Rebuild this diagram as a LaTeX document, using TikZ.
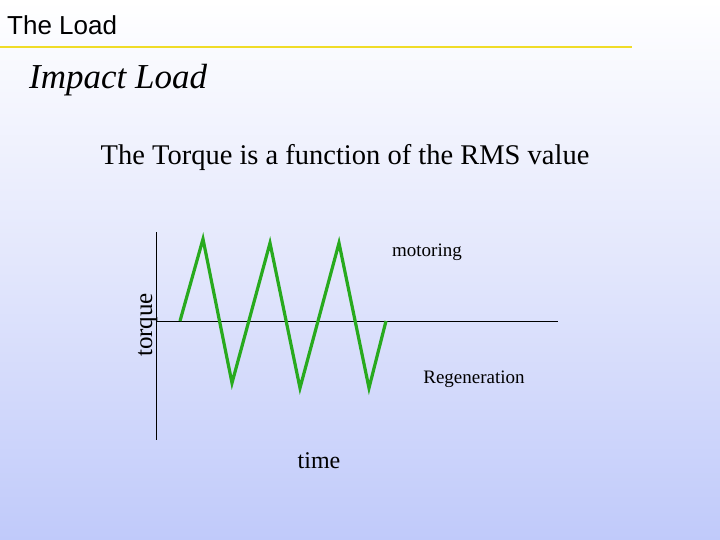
\documentclass[tikz,border=0pt]{standalone}
\usepackage{fontspec}
\setmainfont{Liberation Serif}
\newfontfamily\titlefont{Liberation Sans}
\begin{document}
\begin{tikzpicture}[x=1pt,y=-1pt,
  axis/.style={draw=black,line width=0.8pt},
  wave/.style={color={rgb,255:red,40;green,170;blue,30},line width=3.2pt,line join=miter},
  lbl/.style={inner sep=0,anchor=base}]
\shade[top color=white,bottom color={rgb,255:red,192;green,202;blue,250},middle color={rgb,255:red,226;green,230;blue,252}] (0,0) rectangle (720,540);
\useasboundingbox (0,0) rectangle (720,540);
\node[lbl,anchor=base west,font=\titlefont\fontsize{26}{30}\selectfont] (t) at (7,35) {The Load};
\draw[color={rgb,255:red,240;green,220;blue,40},line width=1.5pt] (0,47) -- (632,47);
\node[lbl,anchor=base west,font=\itshape\fontsize{35}{40}\selectfont] (s) at (29,89) {Impact Load};
\node[lbl,font=\fontsize{28.5}{32}\selectfont] (h) at (345,165) {The Torque is a function of the RMS value};
\coordinate (vt) at (156,232); \coordinate (vb) at (156,440);
\coordinate (hl) at (156,321); \coordinate (hr) at (558,321);
\draw[axis] (vt) -- (vb);
\draw[axis] (hl) -- (hr);
\draw[wave] (180,321) -- (203,239) -- (232,383) -- (270,243) -- (300,388) -- (339,243) -- (369,388) -- (386,321);
\node[lbl,font=\fontsize{19}{22}\selectfont] (m) at (427,256) {motoring};
\node[lbl,font=\fontsize{19}{22}\selectfont] (r) at (474,383) {Regeneration};
\node[lbl,font=\fontsize{24}{28}\selectfont] (tm) at (319,468) {time};
\node[lbl,rotate=90,font=\fontsize{25}{28}\selectfont] (tq) at (152,325) {torque};
\end{tikzpicture}
\end{document}
